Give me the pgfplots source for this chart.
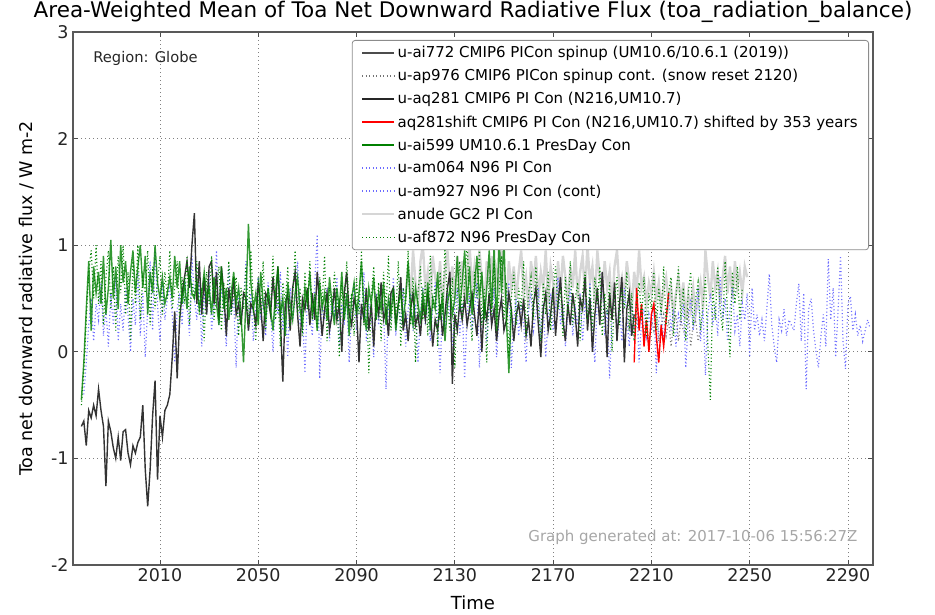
\documentclass[border=0pt]{standalone}
\usepackage{pgfplots}
\pgfplotsset{compat=1.18}
\usepackage{pgfplotstable}
\usepackage{fontspec}
\setmainfont{DejaVu Sans}
\definecolor{mgreen}{rgb}{0,0.5,0}
\definecolor{mblue}{rgb}{0.42,0.42,1}
\definecolor{mlight}{rgb}{0.84,0.84,0.84}

% u-ai772, from 1978
\pgfplotstableread[header=false,row sep=\\]{
-0.70\\-0.65\\-0.88\\-0.55\\-0.62\\-0.50\\-0.60\\-0.35\\-0.55\\-0.70\\
-1.26\\-0.65\\-0.75\\-0.90\\-1.00\\-0.80\\-1.02\\-0.75\\-0.73\\-0.95\\
-1.06\\-0.88\\-0.95\\-0.85\\-0.80\\-0.50\\-1.10\\-1.45\\-1.10\\-0.60\\
-0.27\\-1.20\\-0.60\\-0.80\\-0.55\\-0.50\\-0.40\\-0.05\\0.38\\-0.25\\
0.30\\0.55\\0.70\\0.85\\0.60\\1.00\\1.30\\0.45\\0.85\\0.35\\
0.70\\0.35\\0.80\\0.85\\0.45\\0.75\\0.30\\0.80\\0.55\\0.15\\
0.60\\0.40\\0.70\\0.35\\0.45\\0.25\\0.55\\0.50\\0.20\\0.45\\
0.40\\0.25\\0.65\\0.45\\0.10\\0.55\\0.50\\0.35\\0.70\\0.40\\
0.80\\0.30\\-0.28\\0.45\\0.55\\0.20\\0.60\\0.75\\0.35\\0.05\\
0.50\\0.40\\0.60\\0.25\\0.55\\0.30\\0.75\\0.45\\0.15\\0.40\\
0.55\\0.20\\0.35\\0.60\\0.30\\0.45\\0.00\\0.55\\0.75\\0.35\\
0.25\\0.50\\0.40\\-0.10\\0.45\\0.30\\0.60\\0.20\\0.45\\0.05\\
0.50\\0.35\\0.65\\0.30\\0.40\\0.15\\0.55\\0.60\\0.25\\0.45\\
0.70\\0.20\\0.35\\0.10\\0.40\\0.55\\0.25\\0.35\\0.15\\0.45\\
0.30\\0.55\\0.40\\0.05\\0.30\\0.20\\0.45\\0.15\\0.35\\0.60\\
0.75\\-0.30\\0.35\\0.20\\0.45\\0.30\\0.50\\0.25\\0.40\\0.55\\
0.35\\0.15\\0.50\\0.00\\0.45\\0.30\\0.55\\0.25\\0.40\\0.10\\
0.35\\0.50\\0.20\\0.30\\0.55\\0.40\\0.10\\0.35\\0.45\\0.25\\
0.50\\0.15\\0.30\\0.05\\0.45\\0.60\\0.25\\-0.05\\0.40\\0.55\\
0.20\\0.35\\0.60\\0.15\\0.45\\0.70\\0.30\\0.10\\0.45\\0.25\\
0.55\\0.35\\0.05\\0.50\\0.40\\0.70\\0.20\\0.50\\0.00\\0.35\\
0.60\\0.25\\0.75\\0.40\\-0.05\\0.55\\0.30\\0.65\\0.10\\0.45\\
0.70\\-0.10\\0.40\\0.55\\0.15\\0.35\\
}\tAi

% u-ap976, from 2200
\pgfplotstableread[header=false,row sep=\\]{
0.35\\0.20\\0.45\\0.10\\0.30\\0.25\\0.40\\0.15\\0.35\\0.05\\
0.30\\0.20\\0.40\\0.10\\0.25\\0.35\\0.15\\0.30\\0.05\\0.25\\
0.35\\0.10\\0.30\\0.20\\0.15\\0.40\\0.05\\0.25\\0.30\\0.10\\0.20\\
}\tAp

% u-aq281 (1850-1864) and its 353-year shift
\pgfplotstableread[header=false,row sep=\\]{
-0.10\\0.60\\0.20\\0.45\\0.05\\0.30\\0.00\\0.35\\0.45\\0.15\\
-0.10\\0.25\\0.05\\0.30\\0.55\\
}\tAq

% u-ai599, from 1978
\pgfplotstableread[header=false,row sep=\\]{
-0.45\\-0.10\\0.40\\0.85\\0.20\\0.80\\0.55\\0.75\\0.45\\0.90\\
0.35\\0.60\\1.05\\0.50\\0.80\\0.40\\1.00\\0.65\\0.85\\0.45\\
0.75\\0.95\\0.55\\0.80\\1.00\\0.60\\0.90\\0.35\\0.75\\0.55\\
1.00\\0.65\\0.50\\0.70\\0.45\\0.55\\0.70\\0.50\\0.90\\0.60\\
0.85\\0.45\\0.65\\0.40\\0.80\\0.55\\0.50\\0.65\\0.40\\0.55\\
0.75\\0.50\\0.60\\0.35\\0.70\\0.45\\0.25\\0.80\\0.40\\0.60\\
0.30\\0.55\\0.75\\0.45\\0.60\\0.35\\-0.10\\0.50\\1.20\\0.65\\
0.40\\0.55\\0.25\\0.75\\0.45\\0.30\\0.60\\0.40\\0.20\\0.55\\
0.80\\0.35\\0.50\\0.15\\0.65\\0.45\\0.30\\0.55\\0.70\\0.40\\
0.25\\0.60\\0.45\\0.75\\0.35\\0.50\\0.20\\0.65\\0.40\\0.55\\
0.30\\0.70\\0.45\\0.25\\0.60\\0.40\\0.75\\0.30\\0.55\\0.15\\
0.50\\0.65\\0.35\\0.55\\0.85\\0.40\\0.20\\0.60\\0.45\\0.70\\
0.30\\0.55\\0.40\\0.65\\0.25\\0.50\\0.35\\0.60\\0.20\\0.45\\
0.55\\0.30\\0.50\\0.85\\0.40\\0.25\\0.60\\0.45\\0.30\\0.55\\
0.35\\0.65\\0.20\\0.50\\0.40\\0.75\\0.30\\0.55\\0.10\\0.45\\
0.60\\0.35\\0.50\\0.90\\0.40\\0.65\\0.95\\0.45\\0.80\\0.35\\
0.60\\0.90\\0.50\\0.75\\0.30\\0.60\\0.95\\0.40\\1.00\\0.20\\
1.10\\0.55\\1.05\\0.30\\-0.20\\0.40\\
}\tAs

% u-am064, from 1979
\pgfplotstableread[header=false,row sep=\\]{
-0.40\\-0.10\\0.25\\0.50\\0.10\\0.45\\0.30\\0.65\\0.15\\0.40\\
0.05\\0.55\\0.25\\0.70\\0.10\\0.45\\0.20\\0.60\\0.35\\0.00\\
0.50\\0.25\\0.75\\0.15\\0.55\\-0.05\\0.40\\0.85\\0.20\\0.95\\
0.45\\0.10\\0.65\\0.30\\0.50\\0.60\\0.35\\-0.10\\0.40\\0.55\\
0.25\\0.70\\0.45\\0.15\\0.90\\0.50\\0.30\\0.65\\0.05\\0.55\\
0.35\\0.75\\0.20\\0.45\\0.95\\0.25\\0.60\\0.40\\0.05\\0.80\\
0.35\\0.50\\-0.15\\0.60\\0.30\\0.45\\0.85\\0.20\\0.55\\0.10\\
0.40\\0.70\\0.30\\0.50\\0.15\\0.65\\0.40\\0.00\\0.55\\0.35\\
0.75\\0.20\\0.45\\-0.05\\0.60\\0.30\\0.50\\0.85\\0.25\\0.40\\
-0.20\\0.55\\0.35\\0.15\\0.65\\1.10\\-0.25\\0.45\\0.30\\0.60\\
0.10\\0.50\\0.35\\0.70\\0.05\\0.45\\0.25\\0.55\\-0.10\\0.40\\
0.65\\0.20\\0.50\\0.30\\0.75\\0.10\\0.45\\0.35\\-0.05\\0.55\\
0.25\\0.60\\0.40\\-0.35\\0.50\\0.30\\0.70\\0.15\\0.45\\0.25\\
0.60\\0.05\\0.40\\0.55\\0.20\\0.45\\-0.10\\0.35\\0.60\\0.25\\
0.50\\0.10\\0.40\\0.65\\0.30\\-0.20\\0.45\\0.20\\0.55\\0.35\\
0.05\\0.40\\0.60\\0.15\\0.45\\-0.25\\0.35\\0.55\\0.20\\0.40\\
0.65\\-0.15\\0.30\\0.50\\0.10\\0.45\\0.25\\0.60\\-0.05\\0.35\\
0.50\\0.20\\
}\tAm

% u-am927, from 2151
\pgfplotstableread[header=false,row sep=\\]{
0.40\\0.65\\-0.15\\0.30\\0.50\\0.15\\0.45\\0.25\\-0.10\\0.40\\
0.55\\0.20\\0.35\\0.60\\0.10\\0.45\\-0.05\\0.30\\0.55\\0.20\\
0.40\\0.70\\0.25\\0.45\\0.05\\0.35\\0.60\\0.15\\0.40\\0.25\\
0.55\\0.10\\0.45\\0.30\\0.65\\0.20\\-0.10\\0.50\\0.35\\0.75\\
0.15\\0.40\\-0.25\\0.30\\0.55\\0.20\\0.45\\0.10\\0.60\\0.35\\
0.05\\0.45\\0.25\\0.50\\-0.10\\0.30\\0.40\\0.15\\0.35\\0.20\\
0.45\\-0.20\\0.30\\0.40\\0.10\\0.35\\0.55\\0.20\\0.40\\0.05\\
0.35\\0.25\\0.45\\-0.15\\0.30\\0.50\\0.20\\0.35\\0.60\\0.10\\
0.40\\-0.22\\0.35\\0.55\\0.25\\0.45\\0.15\\0.70\\0.30\\0.50\\
0.10\\0.40\\0.60\\0.20\\0.35\\0.05\\0.45\\0.30\\0.55\\-0.05\\
0.60\\0.20\\0.35\\0.15\\0.30\\0.10\\0.40\\0.73\\0.25\\0.05\\
-0.10\\0.30\\0.20\\0.40\\0.15\\0.30\\0.25\\0.20\\0.45\\0.64\\
0.10\\0.55\\-0.35\\0.40\\0.50\\0.20\\0.00\\-0.15\\0.15\\0.35\\
0.05\\0.87\\0.30\\0.60\\-0.05\\0.40\\0.90\\0.10\\-0.16\\0.45\\
0.52\\0.20\\0.35\\0.15\\0.25\\0.10\\0.20\\0.30\\0.22\\
}\tAn

% anude, from 2110
\pgfplotstableread[header=false,row sep=\\]{
0.55\\0.80\\0.50\\0.95\\0.65\\0.40\\0.85\\1.00\\0.60\\0.75\\
0.45\\0.90\\0.70\\0.55\\0.85\\0.40\\0.75\\0.95\\0.60\\0.80\\
0.50\\0.90\\0.65\\0.85\\0.45\\0.75\\1.00\\0.60\\0.80\\0.55\\
0.95\\0.70\\0.40\\0.85\\0.65\\0.90\\0.50\\0.75\\0.60\\0.95\\
0.70\\0.45\\0.85\\0.60\\0.80\\0.50\\0.75\\0.95\\0.55\\0.70\\
0.40\\0.85\\0.65\\0.90\\0.50\\0.75\\0.60\\0.95\\0.45\\0.80\\
0.65\\0.35\\0.85\\0.55\\0.90\\0.70\\0.45\\0.80\\0.60\\0.95\\
0.50\\0.75\\0.90\\0.55\\1.00\\0.65\\0.80\\0.45\\0.95\\0.70\\
0.55\\0.85\\0.60\\0.75\\0.40\\0.80\\0.95\\0.60\\0.70\\0.50\\
0.85\\0.65\\0.40\\0.75\\0.55\\0.95\\0.60\\0.70\\0.45\\0.65\\
0.55\\0.75\\0.50\\0.65\\0.40\\0.60\\0.70\\0.45\\0.60\\0.35\\
0.55\\0.70\\0.45\\0.65\\0.30\\0.55\\0.40\\0.60\\0.35\\0.50\\
0.65\\0.40\\0.95\\0.70\\0.50\\0.85\\0.60\\0.75\\0.45\\0.70\\
0.90\\0.55\\0.80\\0.50\\0.85\\0.60\\0.75\\0.55\\0.80\\0.70\\
}\tAd

% u-af872, from 1978
\pgfplotstableread[header=false,row sep=\\]{
-0.50\\-0.20\\0.30\\0.75\\0.95\\0.50\\1.00\\0.45\\0.85\\0.25\\
0.70\\0.95\\0.40\\0.80\\0.20\\0.90\\0.55\\1.00\\0.35\\0.75\\
0.10\\0.85\\0.45\\1.00\\0.30\\0.70\\0.55\\0.95\\0.25\\0.80\\
0.40\\0.65\\0.90\\0.35\\0.75\\0.50\\0.95\\0.40\\0.60\\0.85\\
0.30\\0.70\\0.45\\0.90\\0.25\\0.65\\0.50\\0.85\\0.35\\0.60\\
0.10\\0.75\\0.45\\0.90\\0.30\\0.55\\0.80\\0.20\\0.65\\0.40\\
0.85\\0.35\\0.55\\0.70\\0.15\\0.60\\0.40\\0.80\\0.25\\0.95\\
0.45\\0.10\\0.70\\0.35\\0.85\\0.20\\0.60\\0.40\\0.90\\0.30\\
0.55\\0.05\\0.65\\0.45\\0.80\\0.25\\0.50\\0.95\\0.35\\0.60\\
0.15\\0.75\\0.40\\0.85\\0.30\\0.55\\0.20\\0.70\\0.45\\0.90\\
0.10\\0.60\\0.35\\0.75\\0.50\\-0.05\\0.65\\0.30\\0.85\\0.40\\
0.55\\0.15\\0.70\\0.35\\0.95\\0.25\\0.60\\-0.20\\0.50\\0.80\\
0.30\\0.65\\0.10\\0.75\\0.40\\0.90\\0.20\\0.55\\0.35\\0.85\\
0.05\\0.60\\0.45\\0.95\\0.25\\0.70\\-0.10\\0.55\\0.80\\0.30\\
0.65\\0.15\\0.90\\0.40\\0.60\\0.05\\0.75\\0.35\\1.00\\0.45\\
0.20\\0.70\\-0.15\\0.55\\0.85\\0.30\\0.65\\1.05\\0.40\\0.10\\
0.75\\0.50\\0.95\\0.25\\0.60\\-0.10\\0.70\\0.35\\0.85\\0.20\\
0.55\\0.90\\0.30\\0.65\\-0.05\\0.50\\0.75\\0.25\\0.60\\0.40\\
0.85\\0.15\\0.55\\0.70\\0.30\\0.80\\0.45\\0.10\\0.65\\0.35\\
0.75\\0.20\\0.55\\0.80\\0.40\\0.60\\0.15\\0.70\\0.35\\0.85\\
0.25\\0.50\\0.65\\0.10\\0.55\\0.75\\0.30\\0.60\\0.20\\0.70\\
0.45\\0.80\\0.15\\0.55\\0.35\\0.65\\0.00\\0.50\\0.70\\0.25\\
0.60\\0.40\\0.75\\0.20\\0.55\\0.10\\0.45\\0.65\\0.30\\0.70\\
0.15\\0.55\\0.40\\0.75\\0.20\\0.60\\0.35\\0.80\\0.25\\0.55\\
0.70\\0.15\\0.50\\0.80\\0.30\\0.60\\0.10\\0.55\\0.75\\0.25\\
0.50\\0.65\\0.20\\0.45\\0.70\\0.05\\-0.45\\0.60\\0.30\\0.80\\
0.40\\0.20\\0.85\\0.35\\-0.05\\0.75\\0.45\\0.80\\0.30\\0.60\\
}\tAf

\begin{document}
\begin{tikzpicture}
\path[use as bounding box] (-73pt,-49pt) rectangle (862pt,565pt);
\begin{axis}[
  at={(0pt,0pt)}, anchor=south west,
  scale only axis, width=800pt, height=533pt,
  xmin=1974.6, xmax=2300.2, ymin=-2, ymax=3,
  xtick={2010,2050,2090,2130,2170,2210,2250,2290},
  ytick={-2,-1,0,1,2,3},
  /pgf/number format/assume math mode=true,
  xticklabel style={/pgf/number format/1000 sep={}},
  ticklabel style={font=\fontsize{17.5}{20}\selectfont, text=black!85},
  yticklabel style={xshift=-1pt},
  tick align=inside, major tick length=5pt,
  tick style={black!70, line width=0.8pt},
  axis line style={black!65, line width=1.3pt},
  grid=major,
  major grid style={black!50, line width=0.7pt, dash pattern=on 1pt off 3pt},
  title={Area-Weighted Mean of Toa Net Downward Radiative Flux (toa\_radiation\_balance)},
  title style={at={(axis description cs:0.5,1)}, anchor=center, yshift=14pt, font=\fontsize{21.5}{24}\selectfont},
  xlabel={Time},
  xlabel style={at={(axis description cs:0.5,0)}, anchor=center, yshift=-38pt, font=\fontsize{18}{21}\selectfont},
  ylabel={Toa net downward radiative flux / W m-2},
  ylabel style={at={([xshift=-46pt]axis description cs:0,0.5)}, anchor=center, font=\fontsize{17.5}{20}\selectfont},
  legend cell align=left,
  legend style={at={(rel axis cs:0.995,0.985)}, anchor=north east,
    draw=black!45, line width=0.8pt, rounded corners=3pt, fill=white,
    font=\fontsize{15}{17}\selectfont, row sep=6.2pt, inner xsep=9pt, inner ysep=4pt},
  legend image code/.code={\draw[#1] (0pt,0pt) -- (32pt,0pt);},
]
\addlegendimage{draw=black!70, line width=1.6pt}
\addlegendentry{u-ai772 CMIP6 PICon spinup (UM10.6/10.6.1 (2019))}
\addlegendimage{draw=black!55, line width=1.4pt, dash pattern=on 1pt off 2.5pt}
\addlegendentry{u-ap976 CMIP6 PICon spinup cont. (snow reset 2120)}
\addlegendimage{draw=black!85, line width=1.6pt}
\addlegendentry{u-aq281 CMIP6 PI Con (N216,UM10.7)}
\addlegendimage{draw=red, line width=1.6pt}
\addlegendentry{aq281shift CMIP6 PI Con (N216,UM10.7) shifted by 353 years}
\addlegendimage{draw=mgreen, line width=1.8pt}
\addlegendentry{u-ai599 UM10.6.1 PresDay Con}
\addlegendimage{draw=mblue, line width=1.4pt, dash pattern=on 1pt off 2.5pt}
\addlegendentry{u-am064 N96 PI Con}
\addlegendimage{draw=mblue, line width=1.4pt, dash pattern=on 1pt off 2.5pt}
\addlegendentry{u-am927 N96 PI Con (cont)}
\addlegendimage{draw=mlight, line width=2.4pt}
\addlegendentry{anude GC2 PI Con}
\addlegendimage{draw=mgreen, line width=1.4pt, dash pattern=on 1pt off 2.5pt}
\addlegendentry{u-af872 N96 PresDay Con}

\addplot[mlight, line width=2.4pt, forget plot] table[x expr=\coordindex+2110, y index=0] {\tAd};
\addplot[mblue, line width=1.2pt, dash pattern=on 1pt off 2.5pt, forget plot] table[x expr=\coordindex+1979, y index=0] {\tAm};
\addplot[mblue, line width=1.2pt, dash pattern=on 1pt off 2.5pt, forget plot] table[x expr=\coordindex+2151, y index=0] {\tAn};
\addplot[black!80, line width=1.4pt, forget plot] table[x expr=\coordindex+1978, y index=0] {\tAi};
\addplot[black!55, line width=1.2pt, dash pattern=on 1pt off 2.5pt, forget plot] table[x expr=\coordindex+2200, y index=0] {\tAp};
\addplot[black!85, line width=1.4pt, forget plot] table[x expr=\coordindex+1850, y index=0] {\tAq};
\addplot[red, line width=1.4pt, forget plot] table[x expr=\coordindex+2203, y index=0] {\tAq};
\addplot[mgreen, line width=1.4pt, opacity=0.8, forget plot] table[x expr=\coordindex+1978, y index=0] {\tAs};
\addplot[mgreen, line width=1.2pt, dash pattern=on 1pt off 2.5pt, forget plot] table[x expr=\coordindex+1978, y index=0] {\tAf};

\node[anchor=west, font=\fontsize{14.7}{17}\selectfont, text=black!85] at (rel axis cs:0.021,0.951) {Region: Globe};
\node[anchor=east, font=\fontsize{15}{17}\selectfont, text=black!35] at (rel axis cs:0.985,0.0525) {Graph generated at: 2017-10-06 15:56:27Z};
\end{axis}
\end{tikzpicture}
\end{document}
